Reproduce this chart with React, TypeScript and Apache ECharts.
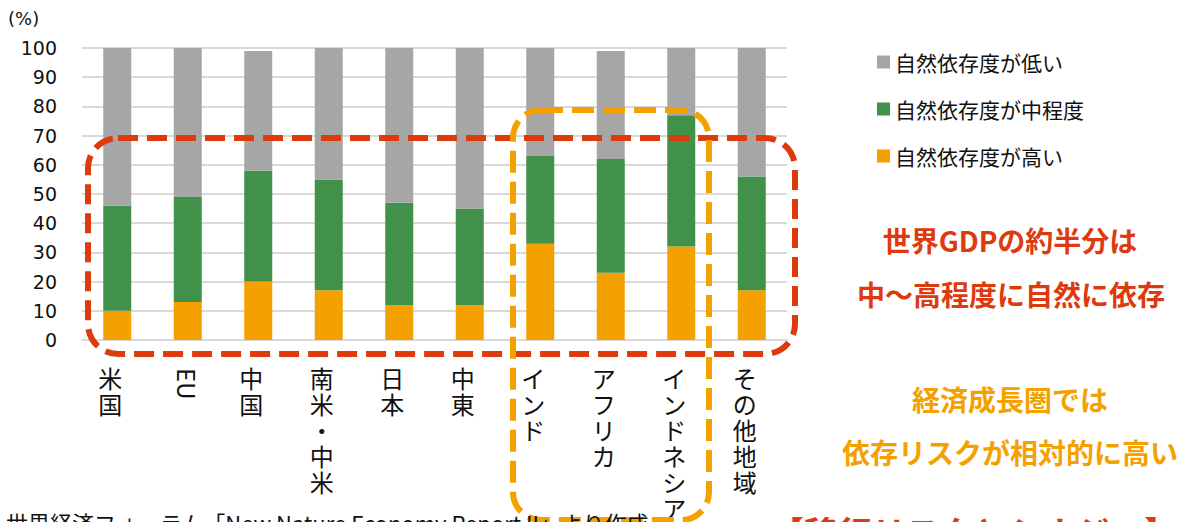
import React, { useEffect, useRef } from "react";
import * as echarts from "echarts";

const categories = ["米国", "EU", "中国", "南米・中米", "日本", "中東", "インド", "アフリカ", "インドネシア", "その他地域"];
const highValues = [10, 13, 20, 17, 12, 12, 33, 23, 32, 17];
const midValues = [36, 36, 38, 38, 35, 33, 30, 39, 45, 39];
const lowValues = [54, 51, 41, 45, 53, 55, 37, 37, 23, 44];
const seriesNames = ["自然依存度が高い", "自然依存度が中程度", "自然依存度が低い"];
const yTicks = [0, 100, 10];

const FONT = "'Noto Sans CJK JP', 'Noto Sans', sans-serif";
const RED = "#DD3A0E";
const ORANGE = "#F4A100";

export default function App() {
  const ref = useRef<HTMLDivElement>(null);
  useEffect(() => {
    document.body.style.margin = "0";
    const chart = echarts.init(ref.current!, null, { renderer: "svg" });
    const grid = { left: 82, top: 48, width: 705, height: 292 };
    chart.setOption({
      animation: false,
      backgroundColor: "#ffffff",
      textStyle: { fontFamily: FONT },
      grid: [grid, { ...grid }],
      legend: {
        orient: "vertical",
        left: 872,
        top: 46,
        itemWidth: 13,
        itemHeight: 13,
        itemGap: 25,
        icon: "rect",
        data: [seriesNames[2], seriesNames[1], seriesNames[0]],
        textStyle: { fontSize: 21, color: "#111", fontFamily: FONT, lineHeight: 22 },
      },
      xAxis: [
        {
          type: "category",
          gridIndex: 0,
          data: categories,
          axisTick: { show: false },
          axisLine: { lineStyle: { color: "#D9D9D9", width: 2 } },
          axisLabel: {
            interval: 0,
            margin: 24,
            fontSize: 24,
            lineHeight: 26,
            color: "#111",
            fontFamily: FONT,
            verticalAlign: "top",
            padding: [0, 14, 0, 0],
            formatter: (v: string) => (v === "EU" ? "" : v.split("").join("\n")),
          },
        },
        {
          type: "category",
          gridIndex: 1,
          position: "bottom",
          data: categories,
          axisTick: { show: false },
          axisLine: { show: false },
          axisLabel: {
            interval: 0,
            rotate: -90,
            margin: 28,
            fontSize: 24,
            color: "#111",
            fontFamily: FONT,
            formatter: (v: string) => (v === "EU" ? v : ""),
          },
        },
      ],
      yAxis: [
        {
          type: "value",
          gridIndex: 0,
          min: yTicks[0],
          max: yTicks[1],
          interval: yTicks[2],
          axisLine: { show: false },
          axisTick: { show: false },
          splitLine: { lineStyle: { color: "#D9D9D9", width: 2 } },
          axisLabel: { margin: 25, fontSize: 19, color: "#111", fontFamily: "'DejaVu Sans', sans-serif" },
        },
        {
          type: "value",
          gridIndex: 1,
          min: 0,
          max: 100,
          interval: 10,
          show: false,
        },
      ],
      series: [
        { name: seriesNames[0], type: "bar", stack: "a", barWidth: 28, data: highValues, itemStyle: { color: ORANGE } },
        { name: seriesNames[1], type: "bar", stack: "a", barWidth: 28, data: midValues, itemStyle: { color: "#42914A" } },
        { name: seriesNames[2], type: "bar", stack: "a", barWidth: 28, data: lowValues, itemStyle: { color: "#A6A6A6" } },
      ],
      graphic: [
        {
          type: "text",
          left: 8,
          top: 9,
          style: { text: "(%)", fontSize: 18, fill: "#111", fontFamily: "'DejaVu Sans', sans-serif" },
        },
        {
          type: "rect",
          z: 100,
          shape: { x: 88, y: 138, width: 707, height: 216, r: 30 },
          style: { fill: "none", stroke: RED, lineWidth: 6, lineDash: [20, 9] },
        },
        {
          type: "rect",
          z: 101,
          shape: { x: 513, y: 110, width: 196, height: 410, r: 28 },
          style: { fill: "none", stroke: ORANGE, lineWidth: 6, lineDash: [22, 9] },
        },
        {
          type: "text",
          z: 102,
          x: 1010,
          y: 240,
          style: { text: "世界GDPの約半分は", fontSize: 28, fontWeight: "bold", fill: RED, fontFamily: FONT, align: "center", verticalAlign: "middle" },
        },
        {
          type: "text",
          z: 102,
          x: 1011,
          y: 294,
          style: { text: "中～高程度に自然に依存", fontSize: 28, fontWeight: "bold", fill: RED, fontFamily: FONT, align: "center", verticalAlign: "middle" },
        },
        {
          type: "text",
          z: 102,
          x: 1010,
          y: 399,
          style: { text: "経済成長圏では", fontSize: 28, fontWeight: "bold", fill: ORANGE, fontFamily: FONT, align: "center", verticalAlign: "middle" },
        },
        {
          type: "text",
          z: 102,
          x: 1010,
          y: 452,
          style: { text: "依存リスクが相対的に高い", fontSize: 28, fontWeight: "bold", fill: ORANGE, fontFamily: FONT, align: "center", verticalAlign: "middle" },
        },
        {
          type: "text",
          z: 102,
          x: 6,
          y: 511,
          style: { text: "世界経済フォーラム「New Nature Economy Report II」より作成", fontSize: 22, fill: "#111", fontFamily: FONT, align: "left", verticalAlign: "top" },
        },
        {
          type: "text",
          z: 102,
          x: 770,
          y: 514,
          style: { text: "【移行リスクとシナジー】", fontSize: 34, fontWeight: "bold", fill: RED, fontFamily: FONT, align: "left", verticalAlign: "top" },
        },
      ],
    });
    return () => chart.dispose();
  }, []);
  return <div ref={ref} style={{ width: 1182, height: 522 }} />;
}
